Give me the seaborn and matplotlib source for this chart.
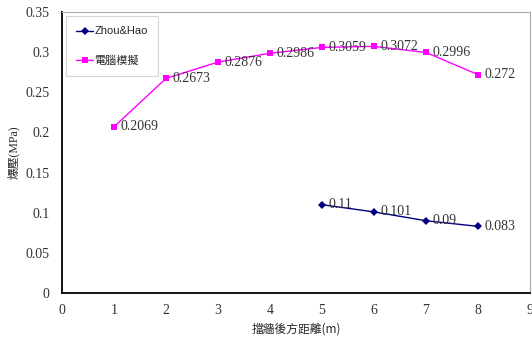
import matplotlib
matplotlib.use("Agg")
import matplotlib.pyplot as plt
import seaborn as sns
import pandas as pd

zh_x = [5, 6, 7, 8]
zh_y = [0.11, 0.101, 0.09, 0.083]
zh_labels = ["0.11", "0.101", "0.09", "0.083"]
sim_x = [1, 2, 3, 4, 5, 6, 7, 8]
sim_y = [0.2069, 0.2673, 0.2876, 0.2986, 0.3059, 0.3072, 0.2996, 0.272]
sim_labels = ["0.2069", "0.2673", "0.2876", "0.2986", "0.3059", "0.3072", "0.2996", "0.272"]
series_names = ["Zhou&Hao", "電腦模擬"]
x_ticks = [0, 1, 2, 3, 4, 5, 6, 7, 8, 9]
y_ticks = [0, 0.05, 0.1, 0.15, 0.2, 0.25, 0.3, 0.35]

sns.set_style("white")
plt.rcParams['font.family'] = ['Liberation Serif', 'Noto Sans CJK TC', 'DejaVu Sans']

df = pd.concat([
    pd.DataFrame({"x": zh_x, "y": zh_y, "s": series_names[0]}),
    pd.DataFrame({"x": sim_x, "y": sim_y, "s": series_names[1]}),
])

fig = plt.figure(figsize=(5.32, 3.40), dpi=100)
ax = fig.add_axes([62/532, 1-293/340, (530-62)/532, (293-12)/340])

palette = {series_names[0]: "#000080", series_names[1]: "#FF00FF"}
markers = {series_names[0]: "D", series_names[1]: "s"}
sns.lineplot(data=df, x="x", y="y", hue="s", style="s", palette=palette,
             markers=markers, dashes=False, markersize=5, linewidth=1.0,
             markeredgewidth=0, ax=ax, sort=False)
for line in ax.lines:
    if line.get_marker() == "D":
        line.set_markersize(4)

for x, y, t in zip(zh_x, zh_y, zh_labels):
    ax.annotate(t, (x, y), xytext=(5, 0), textcoords="offset points",
                va="center", ha="left", fontsize=10, color="#333333")
for x, y, t in zip(sim_x, sim_y, sim_labels):
    ax.annotate(t, (x, y), xytext=(5, 0), textcoords="offset points",
                va="center", ha="left", fontsize=10, color="#333333")

ax.set_xlim(0, 9)
ax.set_ylim(0, 0.35)
ax.set_xticks(x_ticks)
ax.set_yticks(y_ticks)
ax.set_xticklabels([str(v) for v in x_ticks])
ax.set_yticklabels(["0", "0.05", "0.1", "0.15", "0.2", "0.25", "0.3", "0.35"])
ax.tick_params(axis="both", labelsize=10, colors="#333333", length=3, width=0.6)
ax.tick_params(axis="x", direction="in", pad=8, color="#bbbbbb")
ax.tick_params(axis="y", direction="out", pad=6, color="#bbbbbb")

for s in ["left", "bottom"]:
    ax.spines[s].set_color("black")
    ax.spines[s].set_linewidth(1.3)
for s in ["top", "right"]:
    ax.spines[s].set_color("#aaaaaa")
    ax.spines[s].set_linewidth(0.8)

ax.set_xlabel("擋牆後方距離(m)", fontsize=8.5, family=['Noto Sans CJK TC'], labelpad=4)
ax.set_ylabel("爆壓(MPa)", fontsize=8.5, family=['Liberation Serif', 'Noto Sans CJK TC'], labelpad=4)

leg = ax.legend(title=None, loc="upper left", bbox_to_anchor=(0.0, 1.0),
                borderaxespad=0.4,
                frameon=True, fancybox=False, labelspacing=1.75,
                borderpad=0.9, handlelength=1.5, handletextpad=0.1,
                prop={'family': ['Liberation Sans Narrow', 'Liberation Sans', 'Noto Sans CJK TC'], 'size': 8})
leg.get_frame().set_edgecolor("#cccccc")
leg.get_frame().set_linewidth(0.8)

fig.savefig("out.png", dpi=100)
